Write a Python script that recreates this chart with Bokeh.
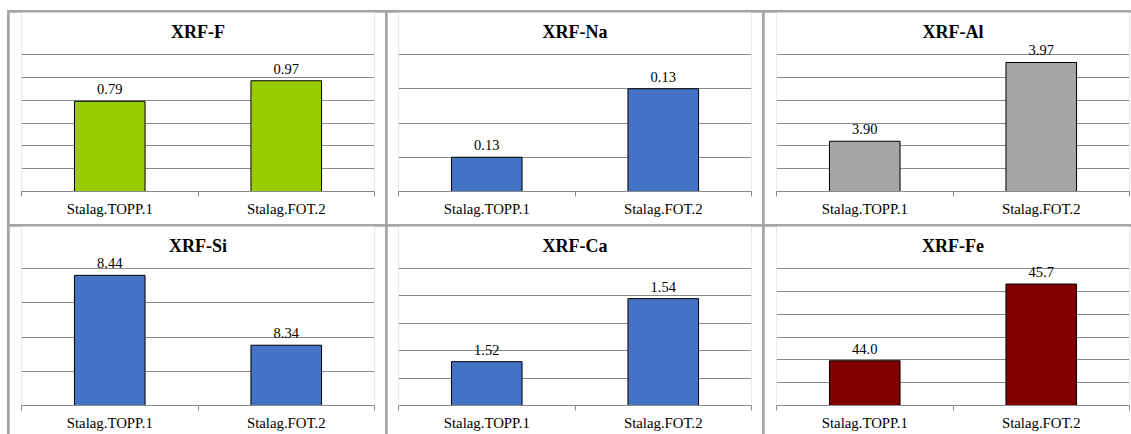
from bokeh.plotting import figure
from bokeh.models import (Range1d, LinearAxis, FixedTicker, Grid, LabelSet, Label,
                          ColumnDataSource, CustomJSTickFormatter,
                          GridBox, Spacer, Row, Column)
from bokeh.embed import file_html
from bokeh.resources import INLINE

# Samples compared in every panel
categories = ["Stalag.TOPP.1", "Stalag.FOT.2"]

# XRF element results per sample
titles = ["XRF-F", "XRF-Na", "XRF-Al", "XRF-Si", "XRF-Ca", "XRF-Fe"]
xrf_f = [0.79, 0.97]
xrf_na = [0.128, 0.132]
xrf_al = [3.904, 3.973]
xrf_si = [8.44, 8.338]
xrf_ca = [1.516, 1.539]
xrf_fe = [43.98, 45.66]

# value-axis scale of each panel: minimum, maximum, gridline step
axis_min = [0.0, 0.126, 3.86, 8.25, 1.50, 43.0]
axis_max = [1.2, 0.134, 3.98, 8.45, 1.55, 46.0]
axis_step = [0.2, 0.002, 0.02, 0.05, 0.01, 0.5]
label_fmt = ["{:.2f}", "{:.2f}", "{:.2f}", "{:.2f}", "{:.2f}", "{:.1f}"]

series = [xrf_f, xrf_na, xrf_al, xrf_si, xrf_ca, xrf_fe]
colors = ["#99CC00", "#4472C4", "#A5A5A5", "#4472C4", "#4472C4", "#800000"]

SERIF = "Liberation Serif"
GRID_COLOR = "#8a8a8a"
BORDER_COLOR = "#a6a6a6"

col_w = [376, 375, 367]
col_border = [(12, 11), (11, 11), (12, 2)]
row_h = [212, 208]
row_bottom = [33, 29]

GRID_PX = 137    # height of the gridded part of each plot area
HEAD_PX = 42     # free space above the top gridline (title + labels)
TITLE_PX = 23    # title baseline above the top gridline


def make_panel(k):
    r, c = divmod(k, 3)
    lo, hi, step = axis_min[k], axis_max[k], axis_step[k]
    per_px = (hi - lo) / GRID_PX
    p = figure(width=col_w[c], height=row_h[r],
               x_range=Range1d(0, len(categories)),
               y_range=Range1d(lo, hi + HEAD_PX * per_px),
               x_axis_type=None, y_axis_type=None,
               toolbar_location=None, output_backend="svg",
               min_border_left=col_border[c][0], min_border_right=col_border[c][1],
               min_border_top=0, min_border_bottom=row_bottom[r])
    p.outline_line_color = None
    p.background_fill_color = "white"
    p.border_fill_color = "white"

    p.add_layout(Label(x=len(categories) / 2, y=hi + TITLE_PX * per_px,
                       text=titles[k], text_align="center",
                       text_baseline="alphabetic", text_font=SERIF,
                       text_font_style="bold", text_font_size="18px",
                       text_color="black"))

    n_lines = int(round((hi - lo) / step))
    grid_ticks = [lo + i * step for i in range(n_lines + 1)]
    p.add_layout(Grid(dimension=1, ticker=FixedTicker(ticks=grid_ticks),
                      grid_line_color=GRID_COLOR, grid_line_width=1))

    xs = [i + 0.5 for i in range(len(categories))]
    vals = series[k]
    src = ColumnDataSource(dict(x=xs, top=vals,
                                label=[label_fmt[k].format(v) for v in vals]))
    p.vbar(x="x", top="top", bottom=lo, width=0.4, source=src,
           fill_color=colors[k], line_color="black", line_width=1)

    p.add_layout(LabelSet(x="x", y="top", text="label", source=src,
                          y_offset=7, text_align="center",
                          text_baseline="alphabetic", text_font=SERIF,
                          text_font_size="14.5px", text_color="black"))

    xaxis = LinearAxis(
        ticker=FixedTicker(ticks=xs, minor_ticks=list(range(len(categories) + 1))),
        formatter=CustomJSTickFormatter(args=dict(names=categories),
                                        code="return names[Math.floor(tick)];"))
    xaxis.axis_line_color = GRID_COLOR
    xaxis.axis_line_width = 1
    xaxis.major_tick_line_color = None
    xaxis.major_tick_in = 0
    xaxis.major_tick_out = 0
    xaxis.minor_tick_line_color = GRID_COLOR
    xaxis.minor_tick_in = 0
    xaxis.minor_tick_out = 5
    xaxis.major_label_standoff = 4
    xaxis.major_label_text_font = SERIF
    xaxis.major_label_text_font_size = "14.8px"
    xaxis.major_label_text_color = "black"
    p.add_layout(xaxis, "below")
    return p


panels = [make_panel(k) for k in range(6)]

cells = [(Spacer(width=0, height=0), 0, 0)]
for k, pan in enumerate(panels):
    r, c = divmod(k, 3)
    cells.append((pan, r + 1, c + 1))

grid = GridBox(children=cells, spacing=2,
               styles={"background-color": BORDER_COLOR})

page = Column(children=[Spacer(width=1131, height=10),
                        Row(children=[Spacer(width=7, height=10), grid])])

open("out.html", "w").write(file_html(page, INLINE))
